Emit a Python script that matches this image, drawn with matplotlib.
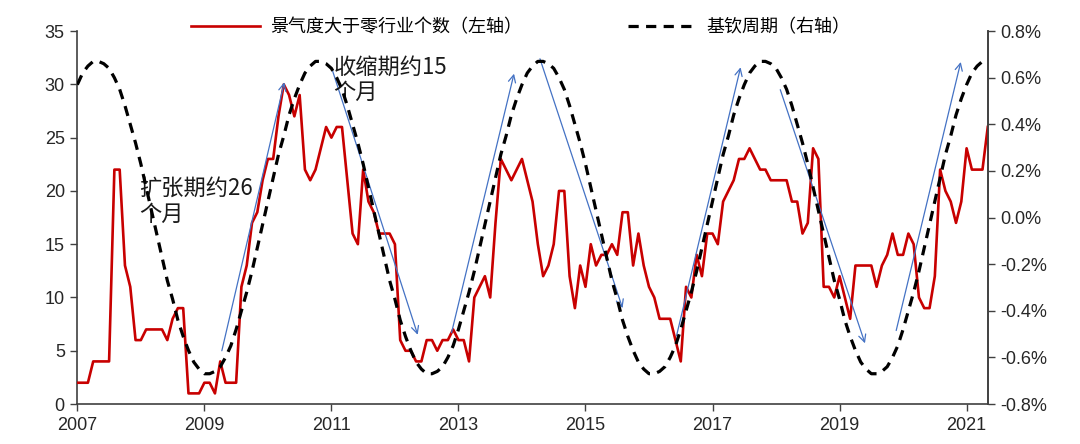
import matplotlib
matplotlib.use('Agg')
import matplotlib.pyplot as plt
import numpy as np
import pandas as pd

plt.rcParams['font.family'] = ['Liberation Sans', 'Noto Sans CJK SC', 'DejaVu Sans']

# 月度数据 2007-01 ~ 2021-05
months = pd.date_range('2007-01-01', '2021-05-01', freq='MS')

# 景气度大于零行业个数（左轴）
industry_count = [
    2, 2, 2, 4, 4, 4, 4, 22, 22, 13,
    11, 6, 6, 7, 7, 7, 7, 6, 8, 9,
    9, 1, 1, 1, 2, 2, 1, 4, 2, 2,
    2, 11, 13, 17, 18, 21, 23, 23, 27, 30,
    29, 27, 29, 22, 21, 22, 24, 26, 25, 26,
    26, 21, 16, 15, 22, 19, 18, 16, 16, 16,
    15, 6, 5, 5, 4, 4, 6, 6, 5, 6,
    6, 7, 6, 6, 4, 10, 11, 12, 10, 17,
    23, 22, 21, 22, 23, 21, 19, 15, 12, 13,
    15, 20, 20, 12, 9, 13, 11, 15, 13, 14,
    14, 15, 14, 18, 18, 13, 16, 13, 11, 10,
    8, 8, 8, 6, 4, 11, 10, 14, 12, 16,
    16, 15, 19, 20, 21, 23, 23, 24, 23, 22,
    22, 21, 21, 21, 21, 19, 19, 16, 17, 24,
    23, 11, 11, 10, 12, 10, 8, 13, 13, 13,
    13, 11, 13, 14, 16, 14, 14, 16, 15, 10,
    9, 9, 12, 22, 20, 19, 17, 19, 24, 22,
    22, 22, 26,
]

# 基钦周期（右轴，%）
kitchin = [
    0.57, 0.62, 0.65, 0.67, 0.67, 0.66, 0.64, 0.60, 0.55, 0.48, 0.40, 0.32, 0.23, 0.13,
    0.03, -0.07, -0.17, -0.27, -0.35, -0.44, -0.51, -0.57, -0.62, -0.65, -0.67, -0.67, -0.66, -0.64,
    -0.60, -0.55, -0.48, -0.40, -0.32, -0.23, -0.13, -0.03, 0.07, 0.17, 0.27, 0.35, 0.44, 0.51,
    0.57, 0.62, 0.65, 0.67, 0.67, 0.66, 0.64, 0.60, 0.55, 0.48, 0.40, 0.32, 0.23, 0.13,
    0.03, -0.07, -0.17, -0.27, -0.35, -0.44, -0.51, -0.57, -0.62, -0.65, -0.67, -0.67, -0.66, -0.64,
    -0.60, -0.55, -0.48, -0.40, -0.32, -0.23, -0.13, -0.03, 0.07, 0.17, 0.27, 0.35, 0.44, 0.51,
    0.57, 0.62, 0.65, 0.67, 0.67, 0.66, 0.64, 0.60, 0.55, 0.48, 0.40, 0.32, 0.23, 0.13,
    0.03, -0.07, -0.17, -0.27, -0.35, -0.44, -0.51, -0.57, -0.62, -0.65, -0.67, -0.67, -0.66, -0.64,
    -0.60, -0.55, -0.48, -0.40, -0.32, -0.23, -0.13, -0.03, 0.07, 0.17, 0.27, 0.35, 0.44, 0.51,
    0.57, 0.62, 0.65, 0.67, 0.67, 0.66, 0.64, 0.60, 0.55, 0.48, 0.40, 0.32, 0.23, 0.13,
    0.03, -0.07, -0.17, -0.27, -0.35, -0.44, -0.51, -0.57, -0.62, -0.65, -0.67, -0.67, -0.66, -0.64,
    -0.60, -0.55, -0.48, -0.40, -0.32, -0.23, -0.13, -0.03, 0.07, 0.17, 0.27, 0.35, 0.44, 0.51,
    0.57, 0.62, 0.65, 0.67, 0.67,
]

tick_years = [2007, 2009, 2011, 2013, 2015, 2017, 2019, 2021]
right_ticks = [-0.8, -0.6, -0.4, -0.2, 0.0, 0.2, 0.4, 0.6, 0.8]

# 蓝色箭头 (起点, 终点)，x 为月份序号，y 为左轴数值
arrows = [
    ((27.3, 5.0), (39.1, 30.2)),
    ((48.2, 31.3), (64.3, 6.5)),
    ((70.7, 6.7), (82.5, 31.0)),
    ((87.4, 32.4), (103.0, 9.0)),
    ((113.2, 6.4), (125.3, 31.6)),
    ((132.8, 29.5), (148.8, 5.7)),
    ((154.7, 6.9), (166.9, 32.1)),
]

notes = [
    ('扩张期约26\n个月', 11.6, 21.3),
    ('收缩期约15\n个月', 48.4, 32.7),
]

x = np.arange(len(months))
year_pos = [months.get_loc(pd.Timestamp(f'{y}-01-01')) for y in tick_years]

fig = plt.figure(figsize=(10.8, 4.44), dpi=100)
ax = fig.add_axes([0.0716, 0.090, 0.843, 0.840])
ax2 = ax.twinx()

red, = ax.plot(x, industry_count, color='#C80000', lw=1.9, zorder=3,
               label='景气度大于零行业个数（左轴）')
blk, = ax2.plot(x, kitchin, color='black', lw=2.3, linestyle=(0, (3.2, 2.3)),
                label='基钦周期（右轴）')

ax.set_xlim(0, len(months) - 1)
ax.set_ylim(0, 35)
ax.set_yticks(range(0, 36, 5))
ax.set_xticks(year_pos)
ax.set_xticklabels([str(y) for y in tick_years])

ax2.set_ylim(-0.8, 0.8)
ax2.set_yticks(right_ticks)
ax2.set_yticklabels([f'{v:.1f}%' for v in right_ticks])

for a in (ax, ax2):
    a.spines['top'].set_visible(False)
    for s in a.spines.values():
        s.set_color('#404040')
        s.set_linewidth(1.2)
    a.tick_params(direction='out', length=5, width=1, colors='#404040',
                  labelcolor='#262626', labelsize=13, pad=4)
ax2.spines['left'].set_visible(False)
ax2.spines['bottom'].set_visible(False)

for (x0, y0), (x1, y1) in arrows:
    ax.annotate('', xy=(x1, y1), xytext=(x0, y0),
                arrowprops=dict(arrowstyle='->', color='#4472C4', lw=0.9,
                                mutation_scale=13, shrinkA=0, shrinkB=0),
                zorder=5)

for txt, tx, ty in notes:
    ax.text(tx, ty, txt, fontsize=16, va='top', ha='left', color='#1a1a1a',
            linespacing=1.15, family=['Noto Sans CJK SC'], zorder=6)

fig.legend(handles=[red, blk], loc='center', bbox_to_anchor=(521 / 1080, 1 - 27 / 444),
           ncol=2, frameon=False, handlelength=3.8, handletextpad=0.55,
           columnspacing=5.9, prop={'family': 'Noto Sans CJK SC', 'size': 13})

fig.savefig('out.png', dpi=100)
